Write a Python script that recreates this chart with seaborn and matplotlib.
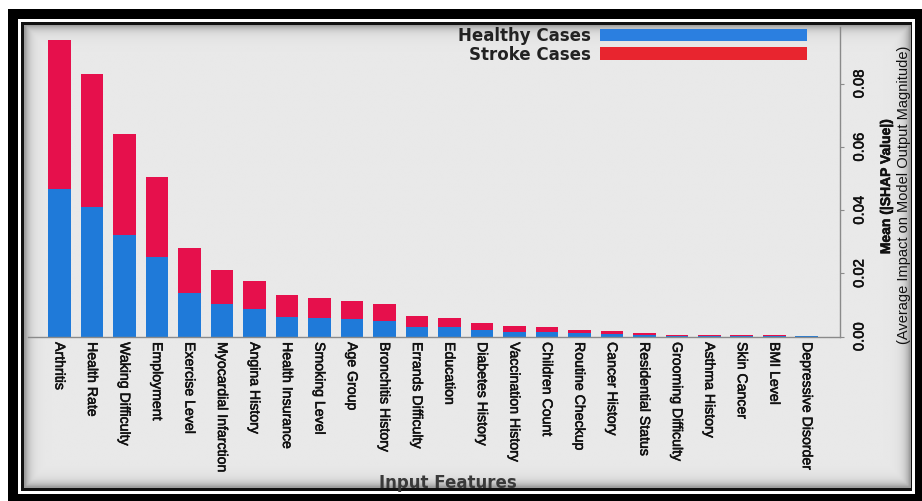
import numpy as np
import pandas as pd
import matplotlib
matplotlib.use("Agg")
import matplotlib.pyplot as plt
import matplotlib.patheffects as pe
from matplotlib.patches import Rectangle
from matplotlib import font_manager
import seaborn as sns

features = ["Arthritis", "Health Rate", "Waking Difficulty", "Employment", "Exercise Level",
            "Myocardial Infarction", "Angina History", "Health Insurance", "Smoking Level",
            "Age Group", "Bronchitis History", "Errands Difficulty", "Education",
            "Diabetes History", "Vaccination History", "Children Count", "Routine Checkup",
            "Cancer History", "Residential Status", "Grooming Difficulty", "Asthma History",
            "Skin Cancer", "BMI Level", "Depressive Disorder"]
healthy = [0.0467, 0.0411, 0.0322, 0.0251, 0.0138, 0.0103, 0.0087, 0.0063, 0.0058, 0.0055,
           0.0050, 0.0031, 0.0029, 0.0022, 0.0015, 0.0014, 0.0010, 0.0008, 0.0005, 0.00025,
           0.0002, 0.0002, 0.0002, 0.00005]
stroke = [0.0472, 0.0420, 0.0320, 0.0253, 0.0142, 0.0108, 0.0090, 0.0068, 0.0063, 0.0058,
          0.0053, 0.0035, 0.0030, 0.0021, 0.0017, 0.0017, 0.0011, 0.0008, 0.0006, 0.00025,
          0.0002, 0.0002, 0.0002, 0.00005]
y_ticks = [0.00, 0.02, 0.04, 0.06, 0.08]
legend_labels = ["Healthy Cases", "Stroke Cases"]

BLUE = "#1f7ad9"
RED = "#e6104c"
LEG_BLUE = "#2b7fe0"
LEG_RED = "#e8252f"

installed = {f.name for f in font_manager.fontManager.ttflist}
if "Liberation Sans Narrow" in installed:
    NARROW = ["Liberation Sans Narrow", "DejaVu Sans"]
    k = 1.0
else:
    NARROW = ["Liberation Sans", "DejaVu Sans"]
    k = 0.82
WIDE = ["DejaVu Sans"]
heavy = [pe.withStroke(linewidth=0.4, foreground="#111111")]

df = pd.DataFrame({"feature": features, "healthy": healthy, "stroke": stroke})
df["total"] = df["healthy"] + df["stroke"]

W, H = 922, 502
fig = plt.figure(figsize=(W / 100, H / 100), dpi=100)
fig.patch.set_facecolor("white")

def frect(x0, y0, x1, y1, color, z):
    fig.patches.append(Rectangle((x0 / W, 1 - y1 / H), (x1 - x0) / W, (y1 - y0) / H,
                                 transform=fig.transFigure, facecolor=color,
                                 edgecolor="none", zorder=z))

frect(8, 10, 922, 502, "black", -10)
frect(18, 20, 915, 495, "white", -9)
frect(21, 23, 912, 492, "#111111", -8)

# gray background with soft vignette
gx0, gy0, gx1, gy1 = 23.5, 25.5, 910, 489.5
bg = fig.add_axes([gx0 / W, 1 - gy1 / H, (gx1 - gx0) / W, (gy1 - gy0) / H], zorder=-5)
nx, ny = 400, 220
xx = np.linspace(0, gx1 - gx0, nx)[None, :]
yy = np.linspace(0, gy1 - gy0, ny)[:, None]
d = np.minimum(np.minimum(xx, (gx1 - gx0) - xx), np.minimum(yy, (gy1 - gy0) - yy))
val = 0.912 - 0.30 * np.exp(-d / 5.0)
bg.imshow(val, cmap="gray", vmin=0, vmax=1, aspect="auto", interpolation="bilinear")
bg.set_axis_off()

# main axes
ax_l, ax_r, ax_t, ax_b = 28, 840, 28, 337.5
ax = fig.add_axes([ax_l / W, 1 - ax_b / H, (ax_r - ax_l) / W, (ax_b - ax_t) / H])
ax.set_facecolor("none")

sns.barplot(data=df, x="feature", y="total", order=features, color=RED, width=0.7,
            saturation=1, ax=ax, errorbar=None, linewidth=0)
sns.barplot(data=df, x="feature", y="healthy", order=features, color=BLUE, width=0.7,
            saturation=1, ax=ax, errorbar=None, linewidth=0)

ax.set_xlim(-0.97, 24.02)
ax.set_ylim(0, 0.098)
ax.set_xlabel("")
ax.set_ylabel("")
for s in ["top", "left"]:
    ax.spines[s].set_visible(False)
for s in ["bottom", "right"]:
    ax.spines[s].set_color("#8a8a8a")
    ax.spines[s].set_linewidth(1.0)

ax.set_xticks(range(len(features)))
ax.set_xticklabels(features, rotation=-90, ha="center", va="top",
                   family=NARROW, fontsize=12.4 * k, color="#111111")
ax.tick_params(axis="x", length=0, pad=4)

ax.yaxis.tick_right()
ax.set_yticks(y_ticks)
ax.set_yticklabels([f"{v:.2f}" for v in y_ticks], rotation=90, va="center", ha="left",
                   family=NARROW, fontsize=13 * k, color="#111111")
ax.tick_params(axis="y", length=3, width=0.8, color="#8a8a8a", pad=6)
for t in ax.get_xticklabels() + ax.get_yticklabels():
    t.set_path_effects(heavy)

# right axis title (two lines)
fig.text(886 / W, 1 - 188 / H, "Mean (|SHAP Value|)", rotation=90, ha="center", va="center",
         family=NARROW, fontsize=12.2 * k, fontweight="bold", color="#111111",
         path_effects=heavy)
fig.text(904 / W, 1 - 195 / H, "(Average Impact on Model Output Magnitude)", rotation=90,
         ha="center", va="center", family=NARROW, fontsize=12.9 * k, color="#111111")

# x title
fig.text(448 / W, 1 - 483 / H, "Input Features", ha="center", va="center",
         family=WIDE, fontsize=12, fontweight="bold", color="#3a3a3a")

# legend
for i, (lab, col) in enumerate(zip(legend_labels, [LEG_BLUE, LEG_RED])):
    yc = 36 + i * 18.5
    frect(600, yc - 6.3, 807, yc + 6.3, col, 5)
    fig.text(591 / W, 1 - yc / H, lab, ha="right", va="center", family=WIDE,
             fontsize=12, fontweight="bold", color="#222222")

fig.savefig("out.png", dpi=100)
